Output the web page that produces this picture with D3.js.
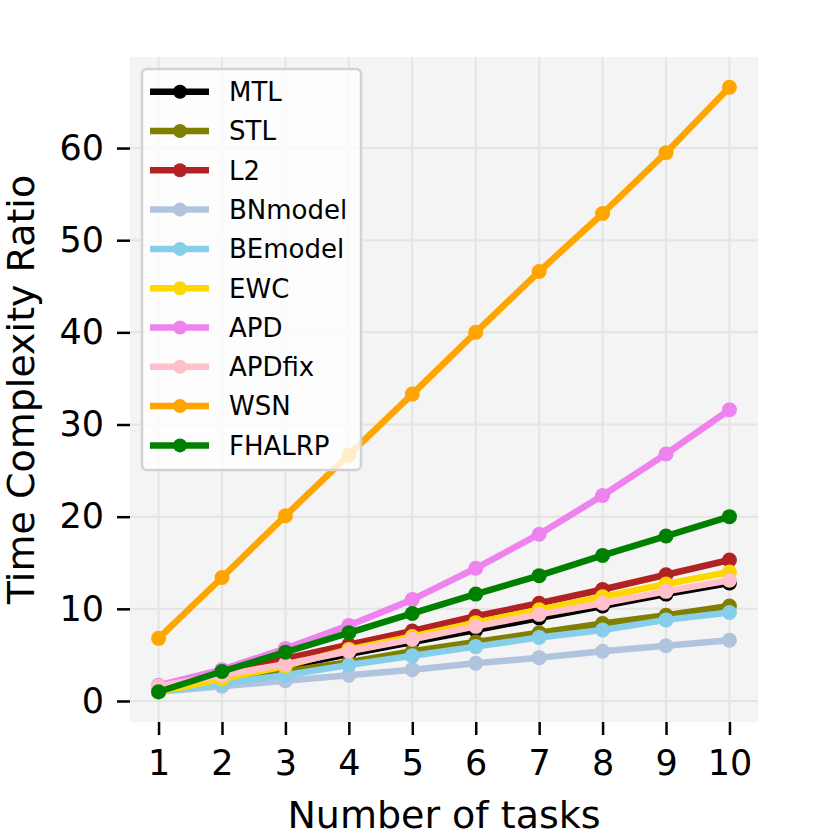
<!DOCTYPE html>
<html>
<head>
<meta charset="utf-8">
<script src="https://cdn.jsdelivr.net/npm/d3@7"></script>
<style>
  body { margin: 0; background: #fff; }
  text { font-family: "DejaVu Sans", sans-serif; }
</style>
</head>
<body>
<svg width="830" height="830"></svg>
<script>
// x values (number of tasks)
var tasks = [1, 2, 3, 4, 5, 6, 7, 8, 9, 10];

// series values
var mtl    = [1.0, 2.5, 3.7, 5.1, 6.4, 7.7, 9.0, 10.3, 11.6, 12.8];
var stl    = [1.0, 2.1, 3.2, 4.2, 5.4, 6.4, 7.4, 8.4, 9.3, 10.3];
var l2     = [1.0, 3.0, 4.6, 6.1, 7.6, 9.2, 10.6, 12.1, 13.7, 15.3];
var bnmod  = [1.0, 1.6, 2.2, 2.8, 3.4, 4.1, 4.7, 5.4, 6.0, 6.6];
var bemod  = [1.0, 1.9, 2.8, 3.9, 4.9, 5.9, 6.9, 7.7, 8.8, 9.6];
var ewc    = [1.0, 2.4, 3.8, 5.6, 7.0, 8.5, 9.9, 11.3, 12.7, 14.0];
var apd    = [1.7, 3.4, 5.7, 8.2, 11.0, 14.4, 18.1, 22.3, 26.8, 31.6];
var apdfix = [1.6, 2.8, 4.0, 5.4, 6.7, 8.1, 9.4, 10.6, 11.9, 13.1];
var wsn    = [6.8, 13.4, 20.1, 26.7, 33.3, 40.0, 46.6, 52.9, 59.5, 66.6];
var fhalrp = [1.0, 3.2, 5.3, 7.4, 9.5, 11.6, 13.6, 15.8, 17.9, 20.0];

var names  = ["MTL", "STL", "L2", "BNmodel", "BEmodel", "EWC", "APD", "APDfix", "WSN", "FHALRP"];
var colors = ["black", "olive", "firebrick", "lightsteelblue", "skyblue", "gold", "violet", "pink", "orange", "green"];
var yTicks = [0, 10, 20, 30, 40, 50, 60];

var seriesValues = [mtl, stl, l2, bnmod, bemod, ewc, apd, apdfix, wsn, fhalrp];
var series = names.map(function(n, i) {
  return {name: n, color: colors[i],
          points: tasks.map(function(t, j) { return {x: t, y: seriesValues[i][j]}; })};
});

var svg = d3.select("svg"),
    plot = {left: 130, right: 758, top: 57, bottom: 722};

// matplotlib style 5% margins
function padded(ext) {
  var m = (ext[1] - ext[0]) * 0.05;
  return [ext[0] - m, ext[1] + m];
}
var allY = d3.merge(seriesValues);

var x = d3.scaleLinear()
    .domain(padded(d3.extent(tasks)))
    .range([plot.left, plot.right]);
var y = d3.scaleLinear()
    .domain(padded(d3.extent(allY)))
    .range([plot.bottom, plot.top]);

// axes background
svg.append("rect")
    .attr("x", plot.left).attr("y", plot.top)
    .attr("width", plot.right - plot.left)
    .attr("height", plot.bottom - plot.top)
    .attr("fill", "#f4f4f4");

// grid
var grid = svg.append("g").attr("stroke", "#e4e4e4").attr("stroke-width", 2);
grid.selectAll(".gx").data(tasks).enter().append("line")
    .attr("x1", function(d) { return x(d); }).attr("x2", function(d) { return x(d); })
    .attr("y1", plot.top).attr("y2", plot.bottom);
grid.selectAll(".gy").data(yTicks).enter().append("line")
    .attr("y1", function(d) { return y(d); }).attr("y2", function(d) { return y(d); })
    .attr("x1", plot.left).attr("x2", plot.right);

// axes
var xAxis = svg.append("g")
    .attr("transform", "translate(0," + plot.bottom + ")")
    .call(d3.axisBottom(x).tickValues(tasks).tickSize(13).tickPadding(15));
var yAxis = svg.append("g")
    .attr("transform", "translate(" + plot.left + ",0)")
    .call(d3.axisLeft(y).tickValues(yTicks).tickSize(13).tickPadding(13));
[xAxis, yAxis].forEach(function(a) {
  a.select(".domain").remove();
  a.selectAll(".tick line").attr("stroke", "#000").attr("stroke-width", 2.5);
  a.selectAll(".tick text").attr("fill", "#000")
    .style("font-size", "35px").style("font-family", "DejaVu Sans");
});

// lines
var line = d3.line()
    .x(function(d) { return x(d.x); })
    .y(function(d) { return y(d.y); });

var lines = svg.append("g");
series.forEach(function(s) {
  var g = lines.append("g");
  g.append("path")
    .datum(s.points)
    .attr("d", line)
    .attr("fill", "none")
    .attr("stroke", s.color)
    .attr("stroke-width", 6.5)
    .attr("stroke-linejoin", "round");
  g.selectAll("circle").data(s.points).enter().append("circle")
    .attr("cx", function(d) { return x(d.x); })
    .attr("cy", function(d) { return y(d.y); })
    .attr("r", 7.5)
    .attr("fill", s.color);
});

// legend
var legend = svg.append("g");
legend.append("rect")
    .attr("x", 142).attr("y", 69)
    .attr("width", 219).attr("height", 401)
    .attr("rx", 5)
    .attr("fill", "#fff").attr("fill-opacity", 0.8)
    .attr("stroke", "#d2d2d2").attr("stroke-width", 2.5);
var rows = legend.selectAll(".row").data(series).enter().append("g")
    .attr("transform", function(d, i) { return "translate(0," + (91.7 + i * 39.3) + ")"; });
rows.append("line")
    .attr("x1", 150).attr("x2", 209)
    .attr("stroke", function(d) { return d.color; })
    .attr("stroke-width", 6.5);
rows.append("circle")
    .attr("cx", 180).attr("r", 7)
    .attr("fill", function(d) { return d.color; });
rows.append("text")
    .attr("x", 229).attr("dy", "0.36em")
    .style("font-size", "26px")
    .text(function(d) { return d.name; });

// axis labels
svg.append("text")
    .attr("x", (plot.left + plot.right) / 2).attr("y", 828)
    .attr("text-anchor", "middle")
    .style("font-size", "38px")
    .text("Number of tasks");
svg.append("text")
    .attr("transform", "translate(34," + (plot.top + plot.bottom) / 2 + ") rotate(-90)")
    .attr("text-anchor", "middle")
    .style("font-size", "38px")
    .text("Time Complexity Ratio");
</script>
</body>
</html>
